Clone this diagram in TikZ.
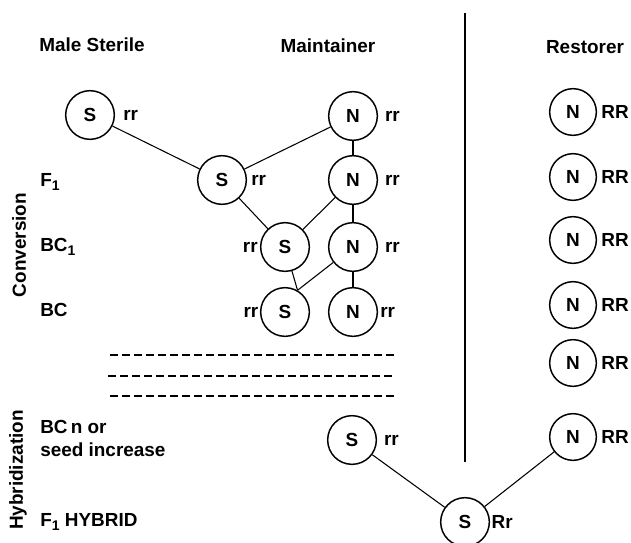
\documentclass[tikz,border=0pt]{standalone}
\usepackage{fontspec}
\setmainfont{Liberation Sans}
\newcommand\lowsub[1]{\raisebox{-0.4ex}{\fontsize{10.5}{12}\selectfont #1}}
\begin{document}
\begin{tikzpicture}[x=0.75pt,y=-0.75pt,
  font=\fontsize{14.2}{17}\selectfont\bfseries,
  plant/.style={circle,draw,line width=1.1pt,minimum size=36.5pt,inner sep=0pt},
  rplant/.style={plant,minimum size=35pt},
  link/.style={line width=0.8pt},
  gen/.style={inner sep=0pt},
  rowlab/.style={inner sep=0pt,anchor=west,align=left},
  dashline/.style={line width=1.2pt,dash pattern=on 6pt off 3pt}]
\useasboundingbox (0,0) rectangle (631,542);

% headings
\node[gen] (hms) at (92,45) {Male Sterile};
\node[gen] (hma) at (328,46) {Maintainer};
\node[gen] (hre) at (585,47) {Restorer};

% separator
\coordinate (vtop) at (465,13);
\coordinate (vbot) at (465,462);
\draw[line width=1pt] (vtop) -- (vbot);

% side labels
\node[gen,rotate=90] (conv) at (19,245) {Conversion};
\node[gen,rotate=90] (hyb) at (18,470) {Hybridization};

% row labels
\node[rowlab] (rf1) at (40,182) {F\lowsub{1}};
\node[rowlab] (rbc1) at (40,247) {BC\lowsub{1}};
\node[rowlab] (rbc) at (40,310) {BC};
\node[rowlab] (rbcn) at (40,427) {BC\,n or};
\node[rowlab] (rseed) at (40,450) {seed increase};
\node[rowlab] (rhyb) at (40,522) {F\lowsub{1} HYBRID};

% male sterile / maintainer lineage
\node[plant] (s1) at (90,115) {S};
\node[plant] (m1) at (353,116) {N};
\node[plant] (s2) at (222,180) {S};
\node[plant] (m2) at (353,180) {N};
\node[plant] (s3) at (285,247) {S};
\node[plant] (m3) at (353,247) {N};
\node[plant] (s4) at (285,312) {S};
\node[plant] (m4) at (353,312) {N};
\node[plant] (sn) at (352,440) {S};
\node[plant] (hy) at (465,522) {S};

% restorer column
\node[rplant] (r1) at (573,112) {N};
\node[rplant] (r2) at (573,177) {N};
\node[rplant] (r3) at (573,240) {N};
\node[rplant] (r4) at (573,305) {N};
\node[rplant] (r5) at (573,363) {N};
\node[rplant] (r6) at (573,437) {N};

% genotype labels
\node[gen,anchor=west] (g1) at ([xshift=6pt]s1.east) {rr};
\node[gen,anchor=west] (g2) at ([xshift=5pt]m1.east) {rr};
\node[gen,anchor=west] (g3) at ([xshift=3pt]s2.east) {rr};
\node[gen,anchor=west] (g4) at ([xshift=5pt]m2.east) {rr};
\node[gen,anchor=east] (g5) at ([xshift=-1.5pt]s3.west) {rr};
\node[gen,anchor=west] (g6) at ([xshift=5pt]m3.east) {rr};
\node[gen,anchor=east] (g7) at ([xshift=-1pt]s4.west) {rr};
\node[gen,anchor=west] (g8) at ([xshift=1.5pt]m4.east) {rr};
\node[gen,anchor=west] (g9) at ([xshift=5pt]sn.east) {rr};
\node[gen,anchor=west] (g10) at ([xshift=1pt]hy.east) {Rr};
\foreach \i in {1,...,6}{
  \node[gen,anchor=west] (rg\i) at ([xshift=3pt]r\i.east) {RR};
}

% dashed separators
\coordinate (d1a) at (110,355); \coordinate (d1b) at (396,355);
\coordinate (d2a) at (108,376); \coordinate (d2b) at (394,376);
\coordinate (d3a) at (110,396); \coordinate (d3b) at (394,396);
\draw[dashline] (d1a) -- (d1b);
\draw[dashline] (d2a) -- (d2b);
\draw[dashline] (d3a) -- (d3b);

% connectors
\draw[link] (s1) -- (s2);
\draw[link] (m1) -- (s2);
\draw[link] (m1) -- (m2);
\draw[link] (s2) -- (s3);
\draw[link] (m2) -- (s3);
\draw[link] (m2) -- (m3);
\draw[link] (s3) -- (s4.60);
\draw[link] (m3) -- (s4.60);
\draw[link] (m3) -- (m4);
\draw[link] (sn) -- (hy);
\draw[link] (r6) -- (hy);
\end{tikzpicture}
\end{document}
